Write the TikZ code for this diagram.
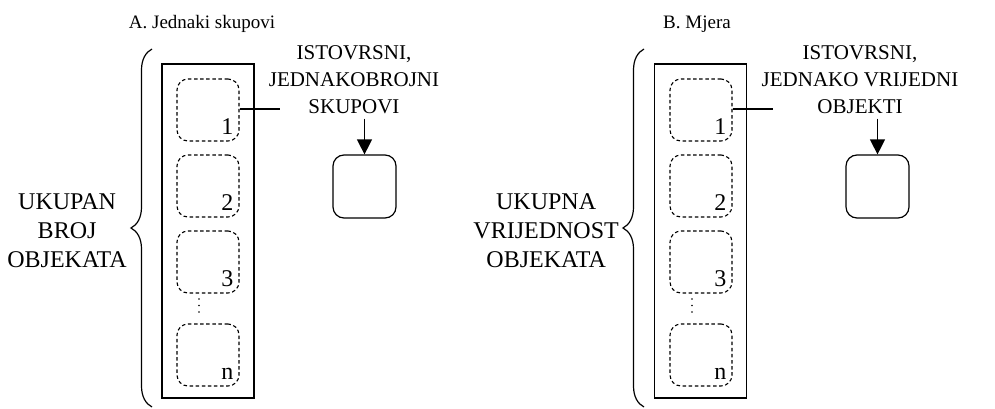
\documentclass[tikz,border=0pt]{standalone}
\usepackage{fontspec}
\setmainfont{Liberation Serif}
\usetikzlibrary{arrows.meta}
\usetikzlibrary{decorations.pathreplacing}
\usetikzlibrary{positioning}
\tikzset{
  column/.style={draw, line width=1.3pt, minimum width=92pt, minimum height=334pt, inner sep=0pt},
  setbox/.style={draw, dash pattern=on 3.5pt off 2.6pt, line width=1.1pt, rounded corners=11pt, minimum width=62pt, minimum height=62pt, inner sep=0pt},
  unitbox/.style={draw, line width=1.2pt, rounded corners=11pt, minimum width=63pt, minimum height=63pt, inner sep=0pt},
  num/.style={anchor=base east, inner sep=0pt, font=\fontsize{24}{29}\selectfont},
  title/.style={anchor=base, inner sep=0pt, font=\fontsize{19}{23}\selectfont},
  toplabel/.style={anchor=north, align=center, inner sep=0pt, font=\fontsize{21}{27}\selectfont},
  sidelabel/.style={align=center, inner sep=0pt, font=\fontsize{24}{29}\selectfont},
  curly/.style={decorate, decoration={brace, amplitude=21pt}, line width=1.2pt},
  link/.style={line width=1.2pt},
  pointer/.style={line width=1.2pt, -{Triangle[length=15pt, width=15pt]}}
}
\begin{document}
\begin{tikzpicture}[x=1pt, y=-1pt]
    \useasboundingbox (0,0) rectangle (995,409);

    \node[title] (titleA) at (202,29) {A. Jednaki skupovi};
    \draw[curly] (152,407) -- (152,49);
    \coordinate (tipA) at (131,231);
    \node[sidelabel, left=4pt of tipA] (totalA) {UKUPAN\\BROJ\\OBJEKATA};
    \node[column] (colA) at (208,231) {};
    \node[setbox] (a1) at (208,110) {};
    \node[setbox] (a2) at (208,186) {};
    \node[setbox] (a3) at (208,262) {};
    \node[setbox] (an) at (208,355) {};
    \node[num] at ([shift={(-6pt,7pt)}]a1.south east) {1};
    \node[num] at ([shift={(-6pt,7pt)}]a2.south east) {2};
    \node[num] at ([shift={(-6pt,7pt)}]a3.south east) {3};
    \node[num] at ([shift={(-6pt,7pt)}]an.south east) {n};
    \fill (199,299) circle (0.9) (199,305.5) circle (0.9) (199,312) circle (0.9);
    \node[toplabel] (kindA) at (354,45) {ISTOVRSNI,\\JEDNAKOBROJNI\\SKUPOVI};
    \coordinate (endA) at (280,109);
    \draw[link] (a1.east |- endA) -- (endA);
    \node[unitbox] (unitA) at (364.5,186.5) {};
    \draw[pointer] ([yshift=-5pt]kindA.south -| unitA.north) -- (unitA.north);

    \node[title] (titleB) at (697,29) {B. Mjera};
    \draw[curly] (644,407) -- (644,49);
    \coordinate (tipB) at (623,231);
    \node[sidelabel, left=4pt of tipB] (totalB) {UKUPNA\\VRIJEDNOST\\OBJEKATA};
    \node[column] (colB) at (700.5,231) {};
    \node[setbox] (b1) at (701,110) {};
    \node[setbox] (b2) at (701,186) {};
    \node[setbox] (b3) at (701,262) {};
    \node[setbox] (bn) at (701,355) {};
    \node[num] at ([shift={(-6pt,7pt)}]b1.south east) {1};
    \node[num] at ([shift={(-6pt,7pt)}]b2.south east) {2};
    \node[num] at ([shift={(-6pt,7pt)}]b3.south east) {3};
    \node[num] at ([shift={(-6pt,7pt)}]bn.south east) {n};
    \fill (692,299) circle (0.9) (692,305.5) circle (0.9) (692,312) circle (0.9);
    \node[toplabel] (kindB) at (860,45) {ISTOVRSNI,\\JEDNAKO VRIJEDNI\\OBJEKTI};
    \coordinate (endB) at (773,109);
    \draw[link] (b1.east |- endB) -- (endB);
    \node[unitbox] (unitB) at (877.5,186.5) {};
    \draw[pointer] ([yshift=-5pt]kindB.south -| unitB.north) -- (unitB.north);
\end{tikzpicture}
\end{document}
